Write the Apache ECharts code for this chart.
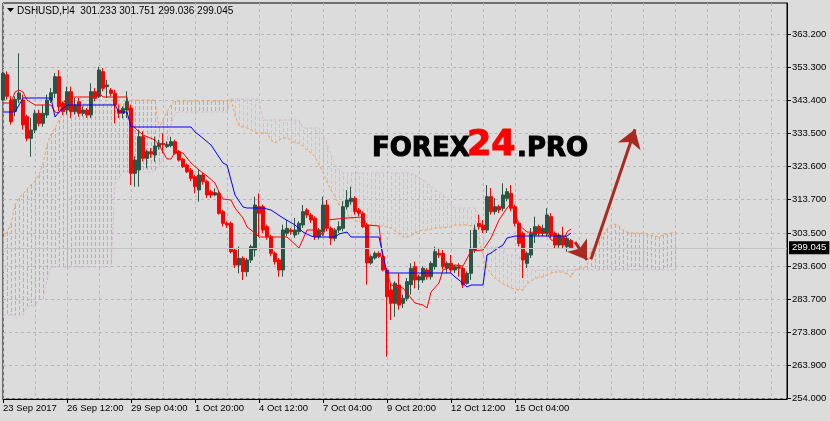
<!DOCTYPE html>
<html><head><meta charset="utf-8">
<script src="https://cdn.jsdelivr.net/npm/echarts@6/dist/echarts.min.js"></script>
<style>html,body{margin:0;padding:0;background:#dcdcdc}#c{width:830px;height:421px}</style>
</head><body><div id="c"></div>
<script>
const symbolName = 'DSHUSD,H4';
const lastOHLC = [301.233, 301.751, 299.036, 299.045];
const xTickLabels = ['23 Sep 2017','26 Sep 12:00','29 Sep 04:00','1 Oct 20:00','4 Oct 12:00','7 Oct 04:00','9 Oct 20:00','12 Oct 12:00','15 Oct 04:00'];
const yTickValues = [254.0,263.9,273.8,283.7,293.6,303.5,313.7,323.6,333.5,343.4,353.3,363.2];

const open = [343.4,351.0,343.4,340.0,343.6,343.4,338.4,331.9,334.4,339.4,
336.4,338.9,343.4,345.4,350.4,342.4,340.4,345.9,339.9,342.9,
339.4,340.4,338.9,345.9,344.4,351.9,347.4,346.4,345.4,340.4,
339.4,340.4,341.0,321.4,322.4,332.4,325.9,327.9,326.9,329.4,
330.4,329.4,329.7,330.9,327.9,325.6,323.9,322.4,320.4,316.4,
320.9,318.9,315.9,314.9,315.4,309.9,306.4,306.4,298.4,293.9,
295.9,291.9,295.4,298.4,311.4,311.4,305.4,302.4,297.4,295.4,
292.4,303.4,304.4,302.9,303.9,305.9,310.4,308.9,307.9,302.4,
303.9,311.9,304.9,301.9,304.4,304.9,311.4,312.9,313.9,310.4,
309.4,305.9,294.5,296.0,297.4,296.4,292.4,286.4,282.4,287.9,
282.4,283.9,288.0,293.4,289.4,289.4,292.4,290.4,293.4,297.4,
297.4,292.9,294.4,292.4,293.4,292.9,288.4,291.4,298.4,306.4,
305.9,304.4,314.4,309.9,311.4,310.9,313.9,315.4,311.4,306.4,
303.4,294.4,296.9,302.9,305.4,303.4,303.4,308.4,303.4,299.9,
302.4,299.4,301.233];
const close = [351.4,344.5,336.9,343.6,345.5,335.9,331.9,334.4,339.4,336.4,
339.4,343.4,345.6,350.4,341.4,339.9,345.9,339.9,341.9,339.4,
340.4,338.9,345.9,343.9,352.4,346.9,347.9,345.4,341.9,339.4,
340.9,342.9,321.4,325.4,332.4,325.9,327.9,327.2,329.6,330.4,
330.0,330.1,330.9,327.4,325.4,323.4,321.9,319.9,317.4,320.9,
318.9,314.9,314.9,315.6,309.4,306.4,305.9,297.9,293.9,295.9,
291.9,295.4,299.4,311.9,309.4,304.4,302.4,297.4,294.9,292.4,
304.4,304.9,303.9,304.4,306.4,309.9,308.9,307.4,302.4,304.4,
311.9,304.9,301.9,304.4,305.4,311.4,313.4,313.9,309.9,309.4,
305.4,294.5,296.4,297.4,296.5,292.4,284.4,282.4,288.4,281.9,
283.9,288.9,292.9,289.4,290.4,292.9,290.4,294.4,297.9,296.9,
293.4,294.4,292.4,293.4,292.9,287.9,291.4,298.9,304.4,305.4,
304.4,314.4,309.9,311.4,310.4,314.9,315.9,310.9,306.4,300.4,
295.4,297.4,303.4,305.4,303.4,304.9,308.9,302.9,299.9,302.9,
299.9,301.9,299.045];
const low = [343.0,343.5,336.0,338.5,342.5,334.5,331.0,326.4,333.5,335.5,
335.4,338.0,342.5,344.0,340.0,338.9,339.0,338.0,339.0,338.4,
338.5,338.0,338.0,343.0,344.0,346.0,344.0,344.5,336.4,338.0,
337.9,338.0,317.9,317.4,317.4,325.0,322.9,326.0,324.9,328.5,
327.4,329.0,329.2,327.0,324.9,323.0,321.5,319.0,315.4,312.9,
318.0,314.0,314.0,314.5,309.0,305.4,305.0,297.4,293.0,291.4,
289.4,290.4,294.5,296.4,302.4,303.5,301.5,296.5,294.0,290.4,
290.4,302.5,303.0,302.0,303.0,305.0,308.0,306.5,301.4,301.5,
303.0,304.0,299.9,301.0,303.5,304.0,310.5,312.0,309.0,308.5,
305.0,288.0,294.0,295.5,296.0,292.0,266.4,277.4,278.4,280.5,
281.0,283.0,285.0,286.9,286.4,288.5,289.5,289.5,292.5,296.0,
292.5,291.4,291.5,291.5,290.4,287.0,288.0,289.4,297.5,304.5,
303.5,303.5,309.0,309.0,309.5,310.0,313.0,310.0,305.5,299.5,
290.0,293.0,296.0,300.5,302.5,302.5,302.5,302.0,299.0,299.0,
299.0,297.9,299.036];
const high = [351.8,352.0,344.5,344.5,357.4,345.0,339.0,338.0,340.5,340.5,
342.0,345.0,347.0,351.5,352.4,343.0,347.4,347.4,344.0,344.0,
341.5,341.0,348.4,347.0,353.4,353.0,349.4,347.0,346.5,342.0,
341.5,346.0,342.0,326.5,334.5,334.0,328.5,329.0,332.4,331.5,
333.4,331.0,332.4,331.5,328.4,326.0,324.4,323.0,321.0,322.4,
321.5,319.5,316.5,316.9,316.0,310.5,307.0,307.0,299.0,299.4,
296.5,296.0,300.0,314.4,315.4,312.0,306.0,303.0,298.0,296.0,
306.0,307.4,305.0,308.0,307.0,311.9,311.0,309.5,308.5,305.0,
314.4,313.4,305.5,305.0,307.0,313.0,316.4,317.4,314.5,311.0,
310.0,306.5,297.0,298.0,298.0,297.0,293.0,288.4,289.0,291.4,
285.0,290.0,294.4,294.9,291.0,293.5,293.0,295.0,299.4,299.0,
298.4,295.0,296.9,294.0,294.4,293.5,292.0,304.4,306.0,309.0,
307.4,317.9,317.0,314.0,312.0,318.4,317.0,317.9,312.0,307.0,
304.0,298.0,305.0,308.4,306.0,306.0,310.9,309.5,304.0,303.5,
305.4,302.5,301.751];

// Ichimoku lines: [bar index, value]
const tenkanPoints = [[0,342.5],[2,342.5],[3,345.8],[4,346.4],[5,345.8],[6,343.4],[8,341.9],[12,341.9],[13,339.8],[14,339.5],[15,342.2],[16,344.3],[23,344.3],[24,345.5],[25,344.3],[31,344.3],[32,336.5],[33,335.0],[35,332.9],[38,331.4],[39,329.9],[41,325.7],[42,325.7],[43,327.8],[45,327.5],[47,324.5],[49,322.4],[51,320.6],[53,318.5],[54,315.8],[55,313.7],[57,313.4],[58,311.0],[60,308.0],[61,305.3],[63,303.5],[64,302.3],[71,302.3],[74,299.0],[76,304.4],[79,304.4],[80,302.6],[81,307.4],[86,308.0],[90,308.3],[91,305.9],[94,305.6],[95,295.4],[97,287.9],[100,287.0],[103,282.5],[105,281.9],[106,281.0],[107,285.8],[109,288.5],[110,292.4],[113,293.9],[115,293.6],[117,298.1],[120,298.4],[122,302.0],[124,307.4],[126,311.0],[127,312.5],[128,309.8],[129,305.9],[131,303.8],[136,303.5],[137,301.4],[140,300.8],[141,303.8],[142,304.7]];
const kijunPoints = [[0,339.8],[3,339.8],[5,344.0],[12,344.0],[13,338.3],[14,339.8],[16,341.9],[28,341.9],[29,339.8],[31,339.8],[32,335.3],[47,335.3],[48,333.8],[49,332.9],[52,329.9],[54,326.3],[55,324.5],[56,323.9],[57,319.4],[58,314.9],[60,311.3],[61,311.0],[65,311.0],[67,310.4],[70,308.0],[73,305.9],[75,303.8],[77,302.6],[78,302.3],[83,302.3],[84,303.2],[86,303.8],[87,302.3],[94,302.3],[95,296.9],[96,291.5],[112,291.5],[113,290.3],[114,289.4],[116,287.3],[117,287.9],[120,287.9],[121,296.9],[122,297.5],[123,298.4],[125,299.9],[126,302.0],[128,302.6],[141,302.6],[142,303.5]];
const spanA = [302.0,303.8,306.2,311.9,314.0,315.2,316.7,317.9,319.1,320.9,
324.2,329.9,333.2,335.0,337.4,339.5,341.0,341.9,
342.2,342.2,342.2,342.2,342.2,342.2,342.2,342.2,342.2,342.2,342.2,342.2,342.2,342.2,
343.4,343.4,343.4,343.4,343.4,343.4,343.4,
335.0,337.4,339.8,341.9,
343.1,343.1,343.1,343.1,343.1,343.1,343.1,343.1,343.1,343.1,343.1,343.1,343.1,343.1,
343.7,338.9,335.6,335.3,335.0,334.4,333.8,333.5,333.5,333.5,
331.4,330.5,331.4,332.0,332.0,331.4,330.5,330.5,329.6,328.4,
327.5,326.3,323.9,321.8,318.8,316.4,314.3,311.9,310.4,309.2,
308.0,307.4,306.8,306.5,306.2,305.9,305.9,305.6,305.6,305.3,
305.0,304.1,303.2,302.3,302.3,302.6,303.5,304.1,304.4,304.4,
304.7,305.0,305.0,305.0,305.3,305.3,305.9,305.9,305.9,305.9,
305.6,304.4,301.4,296.9,293.0,291.2,290.0,289.1,288.2,287.6,
287.0,286.7,286.4,286.4,288.2,289.1,289.7,290.3,290.3,290.9,
291.5,291.8,291.8,291.8,291.2,290.3,292.4,293.0,293.0,293.6,
298.1,299.3,300.8,302.6,304.7,305.9,306.2,305.6,304.4,303.8,
303.5,303.5,303.5,303.5,303.2,302.9,302.6,302.3,302.9,303.2,
303.5,303.8];
const spanB = [278.9,278.9,278.9,278.9,278.9,278.9,281.6,281.6,281.6,283.7,
283.7,289.4,293.3,293.3,293.3,293.3,293.3,293.3,293.3,293.3,
293.3,293.3,293.3,293.3,293.3,293.3,293.3,293.3,318.5,320.0,
321.8,321.8,321.8,321.8,321.8,321.8,321.8,321.8,322.4,323.9,
326.0,329.9,335.9,339.5,339.8,339.8,339.8,339.8,339.8,339.8,
339.8,339.8,339.8,339.8,339.8,339.8,339.8,343.7,343.7,343.7,
343.7,343.7,343.7,343.7,343.7,337.4,337.4,337.4,337.4,337.4,
337.4,337.4,337.4,337.4,337.4,335.0,335.0,335.0,335.0,335.0,
332.9,329.9,326.9,323.9,322.4,321.5,321.5,321.5,321.5,321.5,
321.5,321.5,321.5,321.5,321.5,321.5,321.5,321.5,321.5,321.5,
321.5,321.5,321.5,320.9,320.0,319.4,318.5,317.6,316.4,315.8,
314.9,313.4,311.9,311.0,311.0,311.0,311.0,311.0,311.0,308.9,
302.9,299.9,299.3,299.3,299.3,299.3,296.9,296.9,296.9,296.9,
294.8,294.8,292.4,292.4,292.4,292.4,292.4,292.4,292.4,292.4,
292.4,292.4,292.4,292.4,292.4,292.4,292.4,292.4,292.4,292.4,
292.4,292.4,292.4,292.4,292.4,292.4,292.4,292.4,292.4,292.4,
292.4,292.4,292.4,292.4,292.4,292.4,292.4,292.4,292.4];
// forecast arrows (annotation, in data coordinates)
const arrowShort = [[143, 300.8], [146, 295.4]];
const arrowLong = [[147, 295.6], [158, 334.6]];

const barCount = 197;
const startMs = Date.UTC(2017, 8, 23, 20);
const months = ['Jan','Feb','Mar','Apr','May','Jun','Jul','Aug','Sep','Oct','Nov','Dec'];
const categories = [];
for (let i = 0; i < barCount; i++) {
  const d = new Date(startMs + i * 4 * 3600 * 1000);
  categories.push(d.getUTCDate() + ' ' + months[d.getUTCMonth()] + ' ' + String(d.getUTCHours()).padStart(2,'0') + ':00');
}
const candleData = open.map((o, i) => [o, close[i], low[i], high[i]]);
const lastClose = lastOHLC[3];
const FONT = '"Liberation Sans", Arial, sans-serif';
const ARROW = '#a82a20';
const BULL = '#2b5646';

const chart = echarts.init(document.getElementById('c'), null, {renderer: 'canvas'});
chart.setOption({
  animation: false,
  backgroundColor: '#dcdcdc',
  grid: {left: 3, right: 43, top: 3, bottom: 22, show: true, borderColor: '#000', borderWidth: 1, backgroundColor: 'transparent'},
  xAxis: {
    type: 'category', data: categories, boundaryGap: false,
    axisLine: {lineStyle: {color: '#000', width: 1}},
    axisTick: {show: true, length: 4, lineStyle: {color: '#000'}, interval: (idx) => idx % 16 === 0 && idx / 16 < xTickLabels.length},
    axisLabel: {
      interval: (idx) => idx % 16 === 0 && idx / 16 < xTickLabels.length,
      formatter: (v, idx) => xTickLabels[idx / 16] || '',
      align: 'left', margin: 4, color: '#000', fontSize: 9.5, fontFamily: FONT, hideOverlap: false
    },
    splitLine: {show: true, interval: (idx) => idx % 8 === 0, lineStyle: {color: '#b8b8b8', type: [3, 3], width: 1}}
  },
  yAxis: {
    type: 'value', position: 'right', min: 253.7, max: 372.5,
    axisLine: {show: true, lineStyle: {color: '#000', width: 1}},
    axisTick: {show: true, length: 4, inside: false, lineStyle: {color: '#000'}, customValues: yTickValues},
    axisLabel: {customValues: yTickValues, formatter: (v) => v.toFixed(3), color: '#000', fontSize: 9.5, fontFamily: FONT, margin: 5},
    splitLine: {show: true, lineStyle: {color: '#b8b8b8', type: [3, 3], width: 1}}
  },
  graphic: [
    {type: 'polygon', silent: true, shape: {points: [[7, 8], [14, 8], [10.5, 12]]}, style: {fill: '#000'}},
    {type: 'text', silent: true, x: 17, y: 11, style: {text: symbolName + '  ' + lastOHLC.map(v => v.toFixed(3)).join(' '), font: '10px ' + FONT, fill: '#000', textVerticalAlign: 'middle', verticalAlign: 'middle'}},
    {type: 'text', silent: true, z: 100, x: 372, y: 149, style: {text: 'FOREX', font: '900 26px "DejaVu Sans"', fill: '#000', stroke: '#000', lineWidth: 1, textVerticalAlign: 'middle', verticalAlign: 'middle'}},
    {type: 'text', silent: true, z: 100, x: 467, y: 146, style: {text: '24', font: '900 35px "DejaVu Sans"', fill: '#ff0000', stroke: '#ff0000', lineWidth: 1, textVerticalAlign: 'middle', verticalAlign: 'middle'}},
    {type: 'text', silent: true, z: 100, x: 517, y: 149, style: {text: '.PRO', font: '900 26px "DejaVu Sans"', fill: '#000', stroke: '#000', lineWidth: 1, textVerticalAlign: 'middle', verticalAlign: 'middle'}}
  ],
  series: [
    {
      name: 'cloud', type: 'custom', z: 1, silent: true,
      data: spanA.map((a, i) => [i, a, spanB[i]]),
      encode: {x: 0, y: [1, 2]},
      renderItem: (params, api) => {
        const i = api.value(0), a = api.value(1), b = api.value(2);
        const pa = api.coord([i, a]), pb = api.coord([i, b]);
        const x = Math.round(pa[0]) + 0.5;
        return {type: 'line', shape: {x1: x, y1: pa[1], x2: x, y2: pb[1]},
          style: {stroke: a >= b ? '#f2a05c' : '#d6bcd6', lineWidth: 1, lineDash: [4, 2]}};
      }
    },
    {name: 'Senkou A', type: 'line', data: spanA, z: 2, silent: true, showSymbol: false, symbol: 'none', lineStyle: {color: '#f2a05c', width: 1, type: [3, 2]}},
    {name: 'Senkou B', type: 'line', data: spanB, z: 2, silent: true, showSymbol: false, symbol: 'none', lineStyle: {color: '#d6bcd6', width: 1, type: [3, 2]}},
    {
      name: symbolName, type: 'candlestick', data: candleData, z: 3, barWidth: 2.6,
      itemStyle: {color: BULL, color0: '#ff0000', borderColor: BULL, borderColor0: '#ff0000', borderWidth: 1},
      markLine: {
        silent: true, symbol: 'none', animation: false,
        data: [{yAxis: lastClose}],
        lineStyle: {color: '#c4c4c4', type: 'solid', width: 1},
        label: {show: true, position: 'end', distance: 2, formatter: lastClose.toFixed(3), backgroundColor: '#000', color: '#fff', padding: [2, 3, 1, 3], fontSize: 9.5, fontFamily: FONT}
      }
    },
    {name: 'Tenkan', type: 'line', data: tenkanPoints, z: 4, silent: true, showSymbol: false, symbol: 'none', lineStyle: {color: '#ff0000', width: 1},
      markLine: {
        silent: true, animation: false, symbol: ['none', 'arrow'], symbolSize: 18,
        itemStyle: {color: ARROW},
        lineStyle: {color: ARROW, width: 3, type: 'solid'},
        label: {show: false},
        data: [
          [{coord: arrowShort[0]}, {coord: arrowShort[1], itemStyle: {color: ARROW}}],
          [{coord: arrowLong[0]}, {coord: arrowLong[1], itemStyle: {color: ARROW}}]
        ]
      }
    },
    {name: 'Kijun', type: 'line', data: kijunPoints, z: 4, silent: true, showSymbol: false, symbol: 'none', lineStyle: {color: '#0000ff', width: 1}}
  ]
});
</script></body></html>
